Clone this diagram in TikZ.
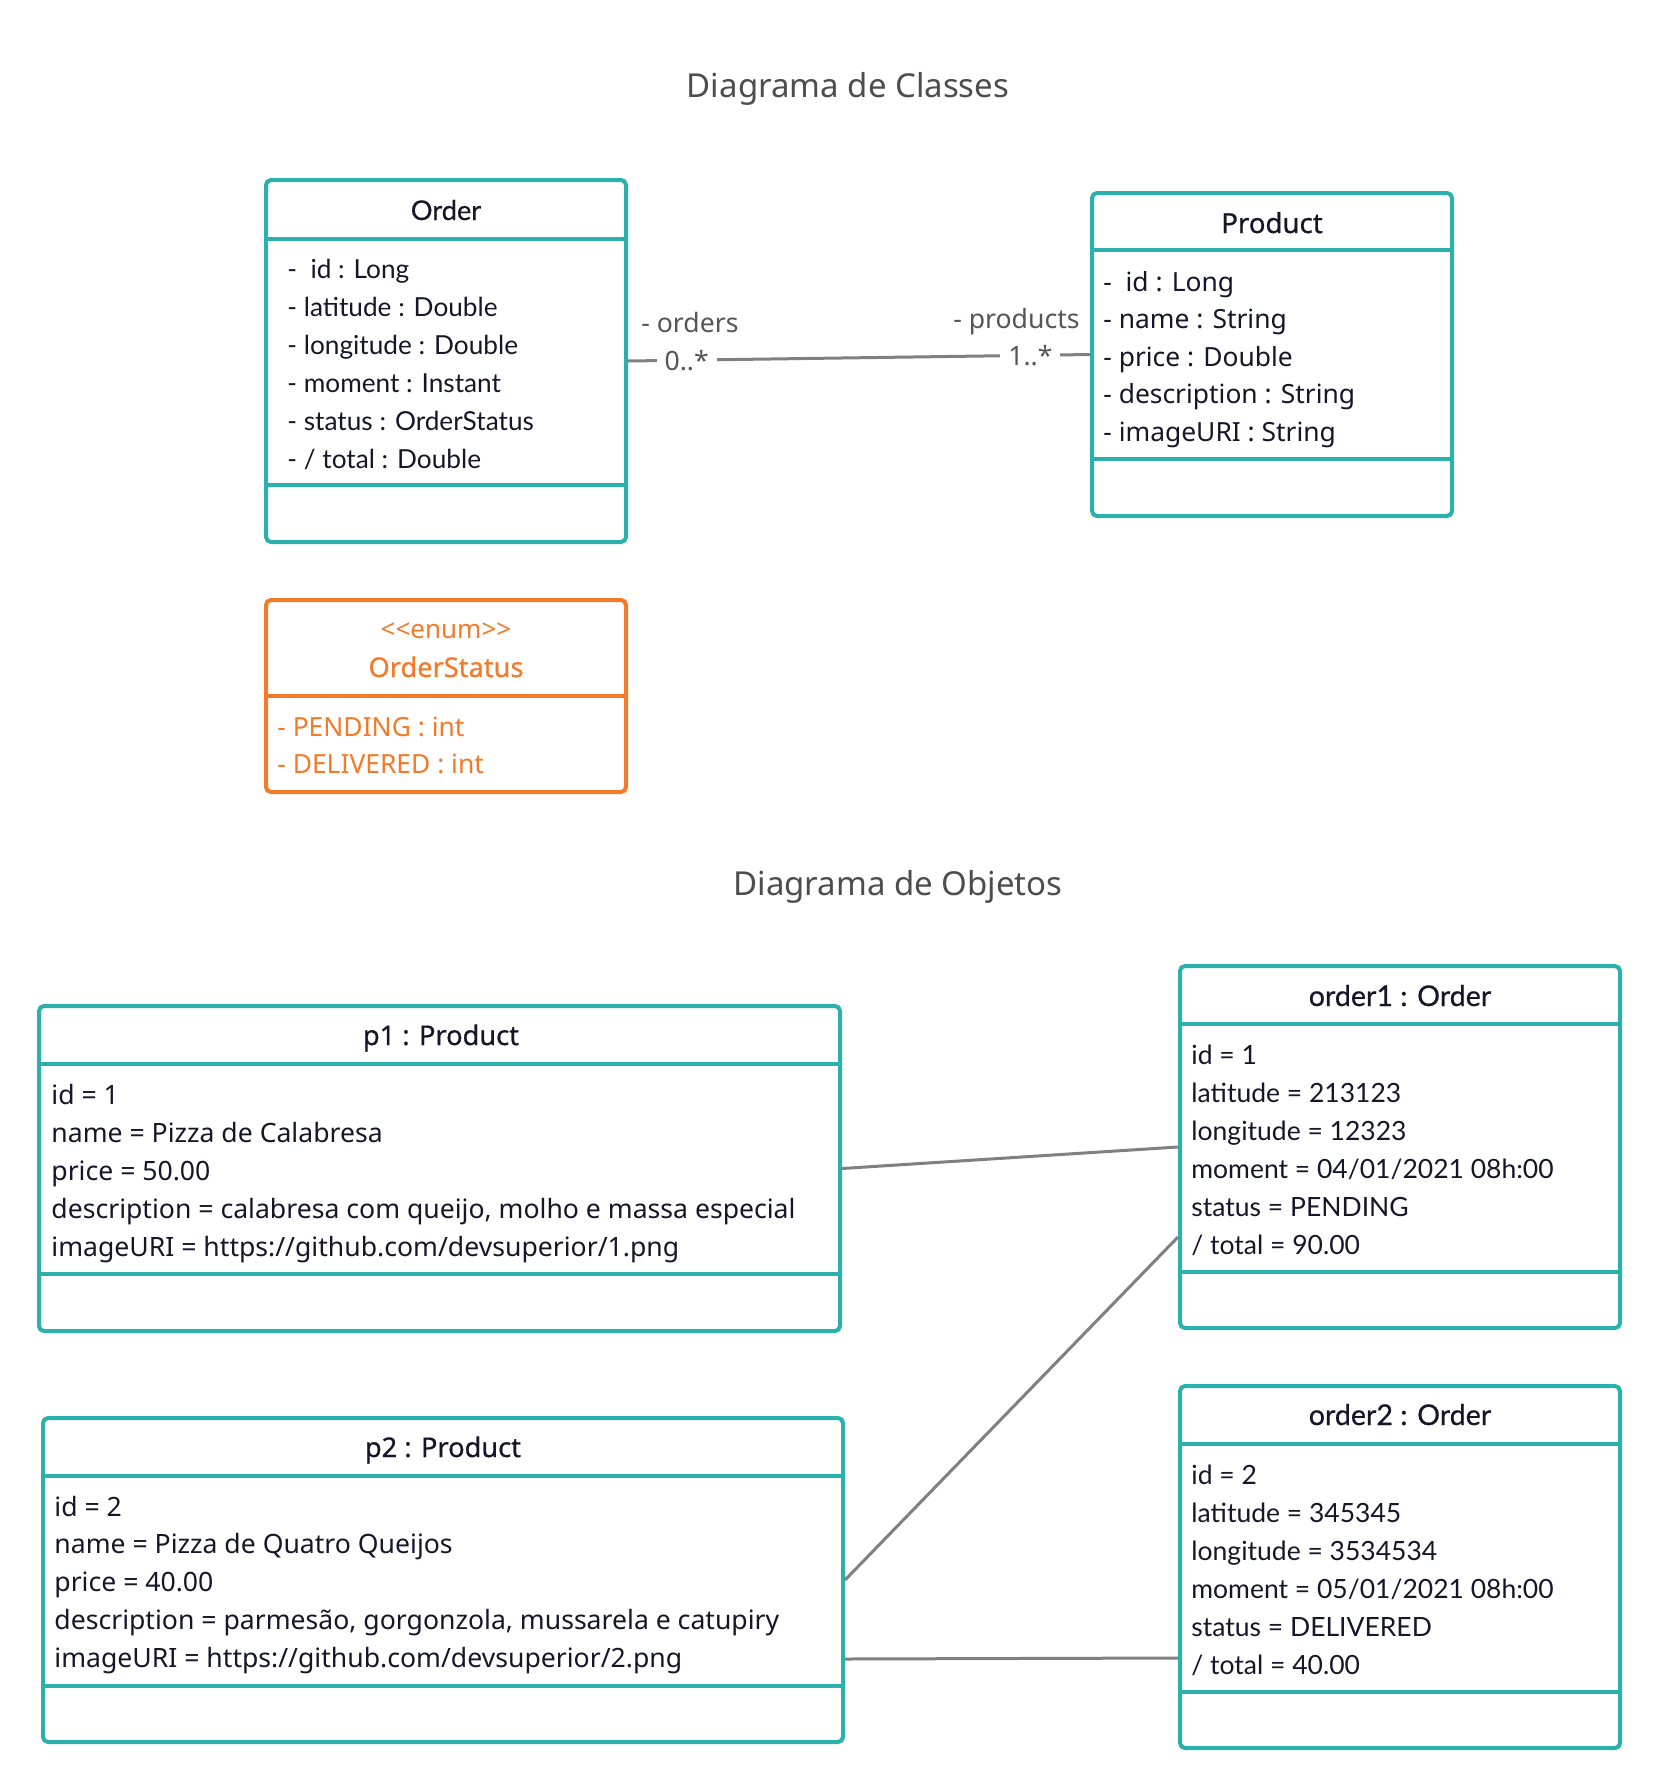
\documentclass[tikz,border=0pt]{standalone}
\usepackage{fontspec}
\usetikzlibrary{calc}
\newfontfamily\lato{Lato}
\newfontfamily\latosb{Lato}[FakeBold=0.6]
\newfontfamily\noto{Noto Sans}
\newfontfamily\notosb{Noto Sans}[FakeBold=0.6]
\definecolor{umlteal}{RGB}{43,176,173}
\definecolor{umlorange}{RGB}{243,122,40}
\definecolor{txt}{RGB}{22,22,42}
\definecolor{ttl}{RGB}{77,77,77}
\definecolor{lbl}{RGB}{85,85,85}
\definecolor{lnk}{RGB}{128,128,128}
\newcommand\attrlist[6]{%
  \foreach \t [count=\i] in {#6} {\node[attr,#5] (#1\i) at (#2,{#3+#4*(\i-1)}) {\t};}}
\tikzset{
  umlbox/.style={draw=umlteal, line width=2pt, rounded corners=2.5pt, inner sep=0pt, fill=white},
  sep/.style={draw=umlteal, line width=2pt},
  attr/.style={anchor=base west, inner sep=0pt, text=txt},
  head/.style={anchor=base, inner sep=0pt, text=txt},
  latoA/.style={font=\lato\fontsize{13.1}{15}\selectfont},
  latoO/.style={font=\lato\fontsize{13.25}{15}\selectfont},
  latoH/.style={font=\latosb\fontsize{13.6}{15}\selectfont},
  latoHO/.style={font=\latosb\fontsize{14.3}{15}\selectfont},
  notoA/.style={font=\noto\fontsize{13.2}{15}\selectfont},
  notoO/.style={font=\noto\fontsize{13.3}{15}\selectfont},
  notoH/.style={font=\notosb\fontsize{13.8}{15}\selectfont},
  notoHO/.style={font=\notosb\fontsize{13.6}{15}\selectfont},
  ttlfont/.style={font=\noto\fontsize{16.5}{20}\selectfont, text=ttl, anchor=base, inner sep=0pt},
  lab/.style={font=\noto\fontsize{13.3}{15}\selectfont, text=lbl, inner sep=0pt},
  link/.style={draw=lnk, line width=1.5pt},
}
\begin{document}
\begin{tikzpicture}[x=0.5pt,y=-0.5pt]
\useasboundingbox[fill=white] (0,0) rectangle (1661,1789);

% titles
\node[ttlfont] (t1) at (848,97) {Diagrama de Classes};
\node[ttlfont] (t2) at (898,895) {Diagrama de Objetos};

% ---------- class Order
\node[umlbox, minimum width=180pt, minimum height=181pt] (order) at (446,361) {};
\draw[sep] (order.west |- 0,239) -- (order.east |- 0,239);
\draw[sep] (order.west |- 0,485) -- (order.east |- 0,485);
\node[head, latoH] (orderH) at (446,220) {Order};
\attrlist{oa}{287}{278}{38}{latoA}{{- \ id : Long},{- latitude : Double},{- longitude : Double},{- moment : Instant},{- status : OrderStatus},{- / total : Double}}

% ---------- class Product
\node[umlbox, minimum width=180pt, minimum height=161.5pt] (product) at (1272,354.5) {};
\draw[sep] (product.west |- 0,250) -- (product.east |- 0,250);
\draw[sep] (product.west |- 0,459) -- (product.east |- 0,459);
\node[head, notoH] (productH) at (1272,233) {Product};
\attrlist{pa}{1103}{291}{37.5}{notoA}{{- \ id : Long},{- name : String},{- price : Double},{- description : String},{- imageURI : String}}

% ---------- enum OrderStatus
\node[umlbox, draw=umlorange, minimum width=180pt, minimum height=96pt] (status) at (446,696) {};
\draw[sep, draw=umlorange] (status.west |- 0,696) -- (status.east |- 0,696);
\node[head, text=umlorange, font=\noto\fontsize{13}{15}\selectfont] (statusS) at (446,638) {<\kern0pt<enum>\kern0pt>};
\node[head, notoHO, text=umlorange] (statusH) at (446,677) {OrderStatus};
\attrlist{sa}{277}{736}{37}{notoA, text=umlorange}{{- PENDING : int},{- DELIVERED : int}}

% ---------- association
\draw[link] (order.east) -- (product.west)
  node[pos=0.127, lab, fill=white, inner xsep=4pt] (m1) {0..*}
  node[pos=0.871, lab, fill=white, inner xsep=4pt] (m2) {1..*};
\node[lab, anchor=base west] (r1) at (641,332) {- orders};
\node[lab, anchor=base east] (r2) at (1080,328) {- products};

% ---------- object p1
\node[umlbox, minimum width=400.5pt, minimum height=162.5pt] (p1) at (439.5,1168.5) {};
\draw[sep] (p1.west |- 0,1064) -- (p1.east |- 0,1064);
\draw[sep] (p1.west |- 0,1274) -- (p1.east |- 0,1274);
\node[head, notoHO] (p1H) at (441,1045) {p1 : Product};
\attrlist{p1a}{51}{1104}{38}{notoO}{{id = 1},{name = Pizza de Calabresa},{price = 50.00},{description = calabresa com queijo, molho e massa especial},{imageURI = https://github.com/devsuperior/1.png}}

% ---------- object p2
\node[umlbox, minimum width=400pt, minimum height=162pt] (p2) at (443,1580) {};
\draw[sep] (p2.west |- 0,1476) -- (p2.east |- 0,1476);
\draw[sep] (p2.west |- 0,1686) -- (p2.east |- 0,1686);
\node[head, notoHO] (p2H) at (443,1457) {p2 : Product};
\attrlist{p2a}{54}{1516}{37.75}{notoO}{{id = 2},{name = Pizza de Quatro Queijos},{price = 40.00},{description = parmesão, gorgonzola, mussarela e catupiry},{imageURI = https://github.com/devsuperior/2.png}}

% ---------- object order1
\node[umlbox, minimum width=220pt, minimum height=181pt] (order1) at (1400,1147) {};
\draw[sep] (order1.west |- 0,1024) -- (order1.east |- 0,1024);
\draw[sep] (order1.west |- 0,1272) -- (order1.east |- 0,1272);
\node[head, latoHO] (o1H) at (1400,1006) {order1 : Order};
\attrlist{o1a}{1191}{1064}{38}{latoO}{{id = 1},{latitude = 213123},{longitude = 12323},{moment = 04/01/2021 08h:00},{status = PENDING},{/ total = 90.00}}

% ---------- object order2
\node[umlbox, minimum width=220pt, minimum height=181pt] (order2) at (1400,1567) {};
\draw[sep] (order2.west |- 0,1444) -- (order2.east |- 0,1444);
\draw[sep] (order2.west |- 0,1692) -- (order2.east |- 0,1692);
\node[head, latoHO] (o2H) at (1400,1425) {order2 : Order};
\attrlist{o2a}{1191}{1484}{38}{latoO}{{id = 2},{latitude = 345345},{longitude = 3534534},{moment = 05/01/2021 08h:00},{status = DELIVERED},{/ total = 40.00}}

% ---------- links
\draw[link] (p1.east) -- (order1.west);
\draw[link] (p2.east) -- ([yshift=-45pt]order1.west);
\draw[link] ([yshift=-39.5pt]p2.east) -- ([yshift=-45.5pt]order2.west);
\end{tikzpicture}
\end{document}
